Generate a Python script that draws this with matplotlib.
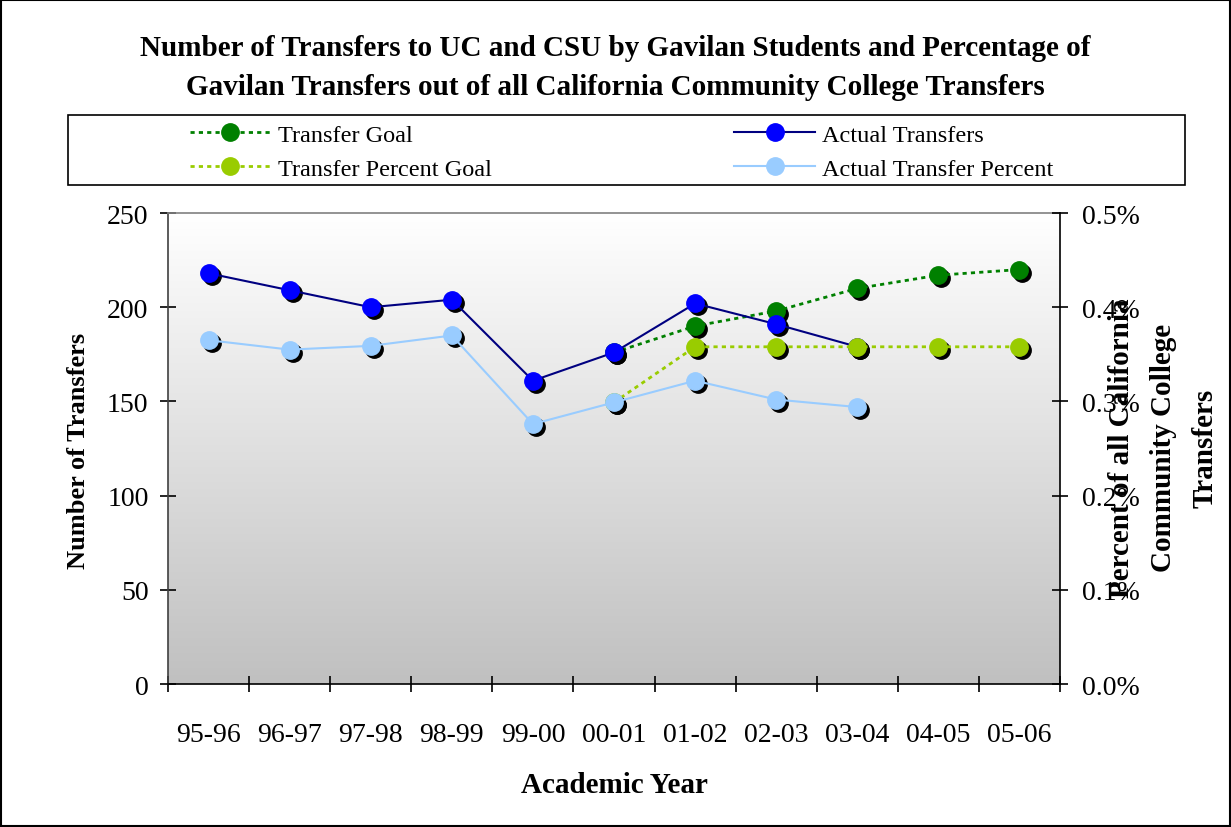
import matplotlib.pyplot as plt
import numpy as np
from matplotlib import transforms
from matplotlib.colors import LinearSegmentedColormap
from matplotlib.patches import Rectangle
from matplotlib.ticker import FuncFormatter

plt.rcParams['font.family'] = ['Liberation Serif', 'DejaVu Serif']

years = ['95-96', '96-97', '97-98', '98-99', '99-00', '00-01',
         '01-02', '02-03', '03-04', '04-05', '05-06']
actual_transfers = [218, 209, 200, 204, 161, 176, 202, 191, 179]
transfer_goal = [176, 190, 198, 210, 217, 220]          # 00-01 .. 05-06
actual_percent = [0.365, 0.355, 0.359, 0.370, 0.276, 0.299, 0.322, 0.302, 0.294]
percent_goal = [0.299, 0.358, 0.358, 0.358, 0.358, 0.358]  # 00-01 .. 05-06

x = np.arange(len(years))
x_actual = x[:len(actual_transfers)]
x_goal = x[len(years) - len(transfer_goal):]

fig = plt.figure(figsize=(12.31, 8.28), dpi=100)
ax = fig.add_axes([0.1365, 0.1727, 0.7246, 0.5688])
ax2 = ax.twinx()

# plot area gradient
cmap = LinearSegmentedColormap.from_list('bg', ['#c0c0c0', '#ffffff'])
ax.imshow(np.linspace(1, 0, 256).reshape(-1, 1), cmap=cmap, aspect='auto',
          extent=[0, 1, 0, 1], transform=ax.transAxes, zorder=0)


def series(a, xs, ys, color, mcolor, ls, lw, z, label):
    shadow = transforms.offset_copy(a.transData, fig=fig, x=3, y=-3, units='dots')
    a.plot(xs, ys, ls='none', marker='o', ms=12.5, color='black',
           transform=shadow, zorder=z)
    a.plot(xs, ys, ls=ls, lw=lw, color=color, marker='o', ms=12.5,
           mfc=mcolor, mec=mcolor, zorder=z + 0.5, label=label)


series(ax, x_goal, transfer_goal, '#008000', '#008000', (0, (1.5, 1.5)), 2, 3, 'Transfer Goal')
series(ax, x_actual, actual_transfers, '#000080', '#0000ff', '-', 1.5, 4, 'Actual Transfers')
series(ax2, x_goal, percent_goal, '#99cc00', '#99cc00', (0, (1.5, 1.5)), 2, 3, 'Transfer Percent Goal')
series(ax2, x_actual, actual_percent, '#99ccff', '#99ccff', '-', 1.5, 4, 'Actual Transfer Percent')

ax.set_xlim(-0.5, len(years) - 0.5)
ax.set_ylim(0, 250)
ax2.set_ylim(0, 0.5)
ax.set_yticks(np.arange(0, 251, 50))
ax2.set_yticks(np.arange(0, 0.51, 0.1))
ax2.yaxis.set_major_formatter(FuncFormatter(lambda v, p: '%.1f%%' % v))

ax.set_xticks(x, years)
ax.set_xticks(np.arange(-0.5, len(years), 1), minor=True)
ax.tick_params(axis='x', which='major', length=0, pad=27, labelsize=20)
ax.tick_params(axis='x', which='minor', direction='inout', length=12, width=1.2)
ax.tick_params(axis='y', direction='inout', length=12, width=1.2, pad=8, labelsize=20)
ax2.tick_params(axis='y', direction='inout', length=12, width=1.2, pad=10, labelsize=20)

for s in ['top', 'left', 'bottom']:
    ax2.spines[s].set_visible(False)
ax.spines['right'].set_visible(False)
ax.spines['top'].set_color('#808080')
ax.spines['left'].set_color('#404040')
for sp in [ax.spines['bottom'], ax.spines['left'], ax2.spines['right'], ax.spines['top']]:
    sp.set_linewidth(1.2)

fig.text(0.5, 0.918, 'Number of Transfers to UC and CSU by Gavilan Students and Percentage of\n'
         'Gavilan Transfers out of all California Community College Transfers',
         ha='center', va='center', fontsize=21, fontweight='bold', linespacing=1.55)
fig.text(0.064, 0.455, 'Number of Transfers', rotation=90, ha='center', va='center',
         fontsize=19, fontweight='bold')
fig.text(0.945, 0.459, 'Percent of all California\nCommunity College\nTransfers',
         rotation=90, ha='center', va='center', fontsize=21, fontweight='bold',
         linespacing=1.7, multialignment='center')
fig.text(0.499, 0.051, 'Academic Year', ha='center', va='center',
         fontsize=21, fontweight='bold')

# legend box
fig.patches.append(Rectangle((0.0552, 0.7754), 0.9074, 0.0846, transform=fig.transFigure,
                             fill=False, edgecolor='black', lw=1.2))
handles = ax.get_legend_handles_labels()[0] + ax2.get_legend_handles_labels()[0]
handles = [handles[0], handles[2], handles[1], handles[3]]
fig.legend(handles, [h.get_label() for h in handles], ncol=2, frameon=False,
           loc='center', bbox_to_anchor=(0.505, 0.8155), fontsize=17.5,
           handlelength=3.3, handletextpad=0.3, columnspacing=10.0, labelspacing=0.5,
           markerscale=1.0)

# outer border
fig.patches.append(Rectangle((0.001, 0.001), 0.998, 0.998, transform=fig.transFigure,
                             fill=False, edgecolor='black', lw=1.5))

fig.savefig('out.png', dpi=100)
